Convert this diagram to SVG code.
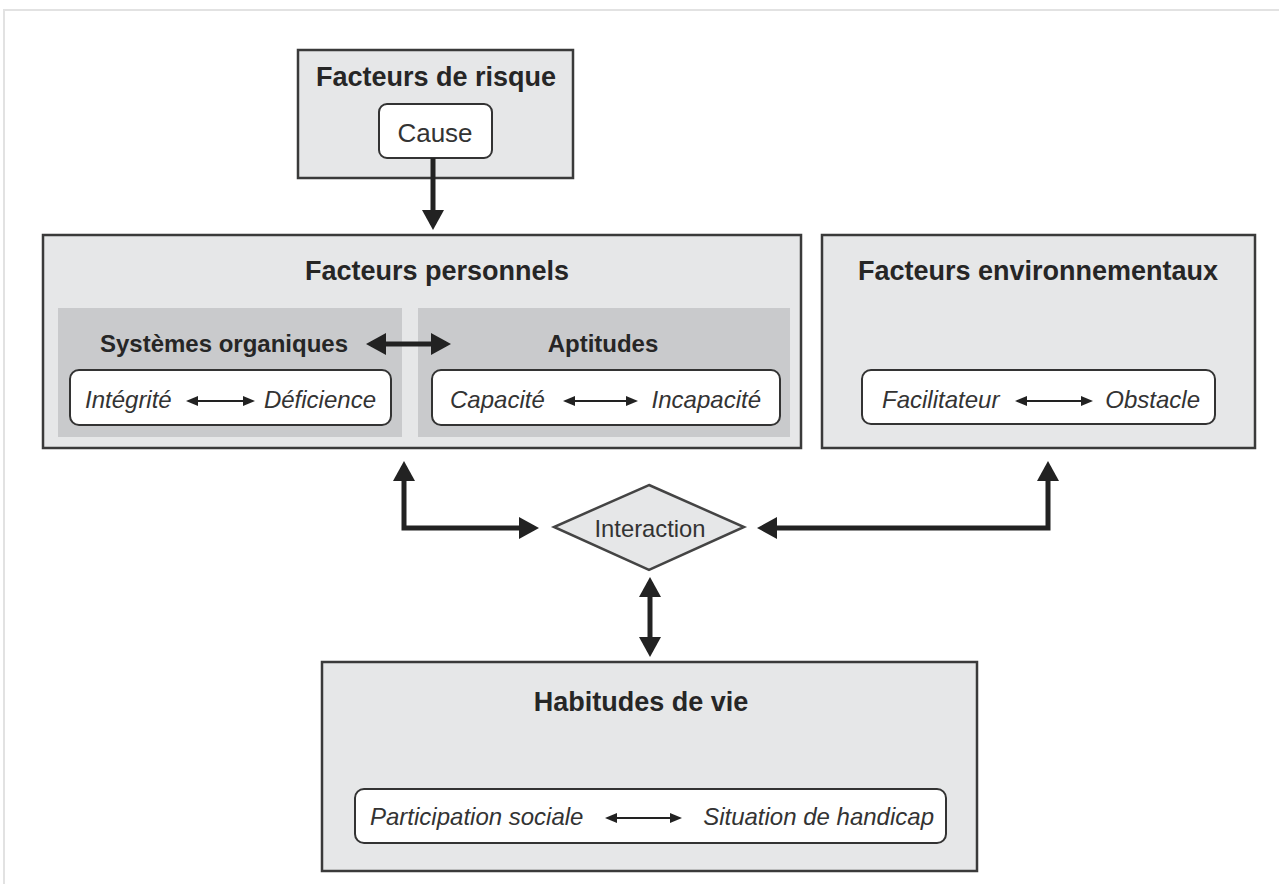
<svg xmlns="http://www.w3.org/2000/svg" width="1279" height="884" viewBox="0 0 1279 884">
  <style>
    .box { fill: #e6e7e8; stroke: #3a3a3a; stroke-width: 2.5; }
    .panel { fill: #c9cacc; stroke: none; }
    .wbox { fill: #ffffff; stroke: #333333; stroke-width: 2; }
    .title { font-family: "Liberation Sans", Arial, sans-serif; font-weight: bold; font-size: 27px; fill: #262626; text-anchor: middle; }
    .sub { font-family: "Liberation Sans", Arial, sans-serif; font-weight: bold; font-size: 24px; fill: #262626; text-anchor: middle; }
    .it { font-family: "Liberation Sans", Arial, sans-serif; font-style: italic; font-size: 24px; fill: #333333; }
    .reg { font-family: "Liberation Sans", Arial, sans-serif; font-size: 26px; fill: #333333; text-anchor: middle; }
    .big { fill: none; stroke: #222222; stroke-width: 5; stroke-linecap: butt; stroke-linejoin: miter; marker-end: url(#bigHead); }
    .bigboth { marker-start: url(#bigHead); }
    .small { fill: none; stroke: #222222; stroke-width: 2; marker-start: url(#smallHead); marker-end: url(#smallHead); }
  </style>
  <defs>
    <marker id="bigHead" viewBox="0 0 20 22" refX="15" refY="11" markerWidth="20" markerHeight="22" markerUnits="userSpaceOnUse" orient="auto-start-reverse">
      <path d="M0,0 L20,11 L0,22 z" fill="#222222"/>
    </marker>
    <marker id="smallHead" viewBox="0 0 12 10" refX="9" refY="5" markerWidth="12" markerHeight="10" markerUnits="userSpaceOnUse" orient="auto-start-reverse">
      <path d="M0,0 L12,5 L0,10 z" fill="#222222"/>
    </marker>
  </defs>

  <rect x="0" y="0" width="1279" height="884" fill="#ffffff"/>
  <rect x="4" y="10" width="1290" height="900" fill="none" stroke="#e2e2e2" stroke-width="2"/>

  <g id="facteurs-risque">
    <rect class="box" x="298" y="50" width="275" height="128"/>
    <text class="title" x="436" y="86">Facteurs de risque</text>
    <g id="cause">
      <rect class="wbox" x="379" y="104" width="113" height="54" rx="8"/>
      <text class="reg" x="435" y="142">Cause</text>
    </g>
  </g>

  <g id="facteurs-personnels">
    <rect class="box" x="43" y="235" width="758" height="213"/>
    <text class="title" x="437" y="280">Facteurs personnels</text>
    <g id="systemes-organiques">
      <rect class="panel" x="58" y="308" width="344" height="129"/>
      <text class="sub" x="224" y="352">Systèmes organiques</text>
      <rect class="wbox" x="70" y="370" width="321" height="55" rx="9"/>
      <text class="it" x="85" y="408">Intégrité</text>
      <text class="it" x="376" y="408" text-anchor="end">Déficience</text>
    </g>
    <g id="aptitudes">
      <rect class="panel" x="418" y="308" width="372" height="129"/>
      <text class="sub" x="603" y="352">Aptitudes</text>
      <rect class="wbox" x="432" y="370" width="348" height="55" rx="9"/>
      <text class="it" x="450" y="408">Capacité</text>
      <text class="it" x="761" y="408" text-anchor="end">Incapacité</text>
    </g>
  </g>

  <g id="facteurs-environnementaux">
    <rect class="box" x="822" y="235" width="433" height="213"/>
    <text class="title" x="1038" y="280">Facteurs environnementaux</text>
    <rect class="wbox" x="862" y="370" width="353" height="54" rx="9"/>
    <text class="it" x="882" y="408">Facilitateur</text>
    <text class="it" x="1200" y="408" text-anchor="end">Obstacle</text>
  </g>

  <g id="interaction">
    <polygon points="649,485 744,527 649,570 554,527" fill="#e6e7e8" stroke="#444444" stroke-width="2.5"/>
    <text x="650" y="537" font-family="'Liberation Sans', Arial, sans-serif" font-size="24" fill="#333333" text-anchor="middle" textLength="111" lengthAdjust="spacingAndGlyphs">Interaction</text>
  </g>

  <g id="habitudes-de-vie">
    <rect class="box" x="322" y="662" width="655" height="209"/>
    <text class="title" x="641" y="711">Habitudes de vie</text>
    <rect class="wbox" x="355" y="789" width="591" height="54" rx="9"/>
    <text class="it" x="370" y="825">Participation sociale</text>
    <text class="it" x="934" y="825" text-anchor="end">Situation de handicap</text>
  </g>

  <g id="connectors">
    <path class="big" d="M433,158 L433,225"/>
    <path class="big bigboth" d="M371,344 L446,344"/>
    <path class="big bigboth" d="M404,466 L404,528 L534,528"/>
    <path class="big bigboth" d="M1048,466 L1048,528 L762,528"/>
    <path class="big bigboth" d="M650,582 L650,652"/>
    <path class="small" d="M189,401 L252,401"/>
    <path class="small" d="M566,401 L635,401"/>
    <path class="small" d="M1018,401 L1090,401"/>
    <path class="small" d="M608,818 L679,818"/>
  </g>
</svg>
